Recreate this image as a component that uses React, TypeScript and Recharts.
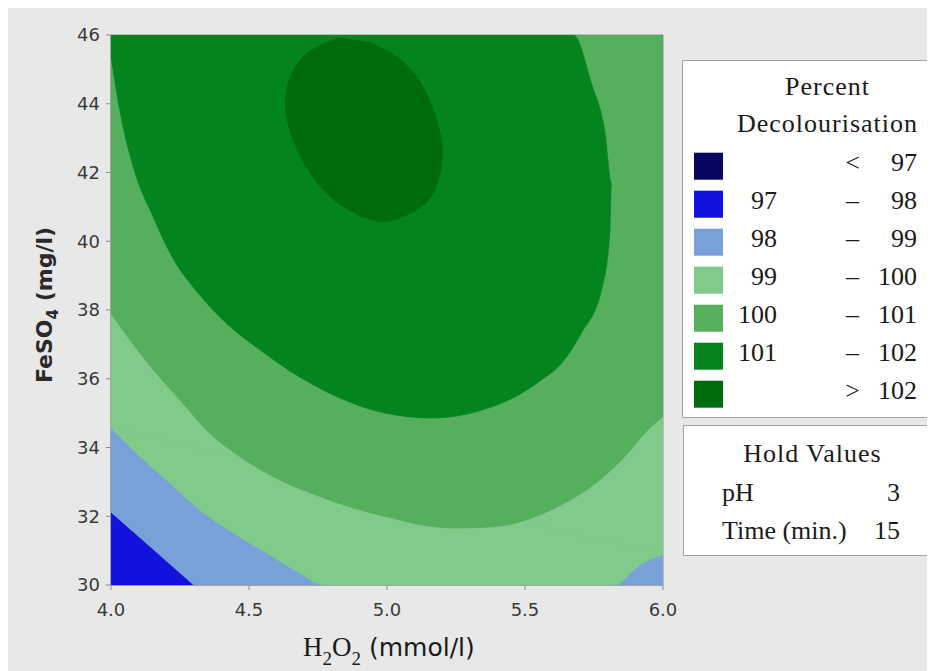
import { ComposedChart, Scatter, XAxis, YAxis, ReferenceArea } from 'recharts';

// axis setup
const X_DOMAIN: [number, number] = [4, 6];
const Y_DOMAIN: [number, number] = [30, 46];
const X_TICKS = [4, 4.5, 5, 5.5, 6];
const Y_TICKS = [30, 32, 34, 36, 38, 40, 42, 44, 46];

// contour lines, [H2O2, FeSO4]
const contour98 = [
  [4.0, 32.12],
  [4.15, 31.06],
  [4.3, 30.0],
];
const contour99Left = [
  [4.0, 34.57],
  [4.105, 33.74],
  [4.213, 32.97],
  [4.321, 32.19],
  [4.442, 31.52],
  [4.562, 30.94],
  [4.682, 30.36],
  [4.77, 30.0],
];
const contour99Right = [
  [5.826, 30.0],
  [5.91, 30.55],
  [6.0, 30.89],
];
const contour100 = [
  [4.0, 37.9],
  [4.09, 36.9],
  [4.17, 36.1],
  [4.249, 35.39],
  [4.357, 34.42],
  [4.466, 33.74],
  [4.61, 33.06],
  [4.755, 32.58],
  [4.899, 32.19],
  [5.043, 31.9],
  [5.116, 31.76],
  [5.25, 31.66],
  [5.404, 31.71],
  [5.525, 31.95],
  [5.645, 32.39],
  [5.741, 32.87],
  [5.862, 33.74],
  [5.934, 34.42],
  [6.0, 34.9],
];
const contour101 = [
  [4.0, 45.4],
  [4.032, 43.81],
  [4.081, 42.16],
  [4.153, 40.71],
  [4.225, 39.5],
  [4.31, 38.55],
  [4.4, 37.75],
  [4.538, 36.85],
  [4.682, 36.06],
  [4.827, 35.45],
  [4.983, 35.02],
  [5.164, 34.86],
  [5.332, 35.06],
  [5.465, 35.48],
  [5.56, 35.97],
  [5.632, 36.45],
  [5.704, 37.33],
  [5.777, 38.58],
  [5.807, 40.23],
  [5.813, 41.68],
  [5.79, 43.13],
  [5.741, 44.58],
  [5.675, 46.0],
];
const contour102 = [
  [4.827, 45.92],
  [4.718, 45.51],
  [4.652, 44.83],
  [4.632, 43.96],
  [4.658, 42.99],
  [4.718, 42.03],
  [4.815, 41.16],
  [4.947, 40.62],
  [5.043, 40.67],
  [5.14, 41.11],
  [5.188, 41.83],
  [5.2, 42.61],
  [5.182, 43.48],
  [5.127, 44.54],
  [5.043, 45.32],
  [4.935, 45.8],
];

// legend
const LEGEND_COLORS = ['#07075f', '#1212dc', '#79a1d9', '#80ca8a', '#55af5c', '#03841f', '#006b0c'];
const LEGEND_FROM = ['', '97', '98', '99', '100', '101', ''];
const LEGEND_SIGN = ['<', '–', '–', '–', '–', '–', '>'];
const LEGEND_TO = ['97', '98', '99', '100', '101', '102', '102'];
const HOLD_NAMES = ['pH', 'Time (min.)'];
const HOLD_VALUES = ['3', '15'];

const [x0, x1] = X_DOMAIN;
const [y0, y1] = Y_DOMAIN;

const contour99 = [...contour99Left, ...contour99Right];
const first = (c: number[][]) => c[0];
const last = (c: number[][]) => c[c.length - 1];

// painted bottom-up, each level = area above its contour.
// smooth part is the curve closed by its chord, the rest is a plain polygon above the chord
const regions = [
  { color: LEGEND_COLORS[1], parts: [{ curve: 'linear', pts: [[x0, y0], [x1, y0], [x1, y1], [x0, y1]] }] },
  { color: LEGEND_COLORS[2], parts: [{ curve: 'linear', pts: [...contour98, [x1, y0], [x1, y1], [x0, y1]] }] },
  {
    color: LEGEND_COLORS[3],
    parts: [
      { curve: 'monotoneX', pts: contour99 },
      { curve: 'linear', pts: [first(contour99), last(contour99), [x1, y1], [x0, y1]] },
    ],
  },
  {
    color: LEGEND_COLORS[4],
    parts: [
      { curve: 'monotoneX', pts: contour100 },
      { curve: 'linear', pts: [first(contour100), last(contour100), [x1, y1], [x0, y1]] },
    ],
  },
  { color: LEGEND_COLORS[5], parts: [{ curve: 'monotoneX', pts: [...contour101, [x0, y1]] }] },
  { color: LEGEND_COLORS[6], parts: [{ curve: 'natural', pts: contour102 }] },
];

const shapes = regions.flatMap((r) =>
  r.parts.map((p) => ({ color: r.color, curve: p.curve, data: p.pts.map(([x, y]) => ({ x, y })) })),
);

const tickStyle = { fill: '#3a3a3a', fontSize: 18, fontFamily: 'DejaVu Sans' };
const serif = 'Liberation Serif';

export default function App() {
  return (
    <div style={{ position: 'relative', width: 927, height: 663, background: '#e8e8e8', overflow: 'hidden' }}>
      <ComposedChart width={680} height={663} margin={{ top: 27, right: 25, left: 43, bottom: 56 }}>
        <XAxis
          type="number"
          dataKey="x"
          domain={X_DOMAIN}
          ticks={X_TICKS}
          allowDataOverflow
          tickFormatter={(v: number) => v.toFixed(1)}
          tick={tickStyle}
          tickSize={5}
          tickMargin={13}
          stroke="#8e8e8e"
        />
        <YAxis
          type="number"
          dataKey="y"
          domain={Y_DOMAIN}
          ticks={Y_TICKS}
          allowDataOverflow
          tick={tickStyle}
          tickSize={5}
          tickMargin={6}
          width={60}
          stroke="#8e8e8e"
        />
        {shapes.map((s, i) => (
          <Scatter
            key={i}
            data={s.data}
            fill={s.color}
            line={{ fill: s.color, stroke: s.color, strokeWidth: 0.8 }}
            lineJointType={s.curve as any}
            shape={() => <g />}
            isAnimationActive={false}
          />
        ))}
        <ReferenceArea x1={x0} x2={x1} y1={y0} y2={y1} fill="none" stroke="#8e8e8e" strokeWidth={1} />
      </ComposedChart>

      <svg width={927} height={663} style={{ position: 'absolute', left: 0, top: 0, pointerEvents: 'none' }}>
        {/* y title */}
        <text
          transform="translate(44,297) rotate(-90)"
          textAnchor="middle"
          fontFamily="DejaVu Sans"
          fontWeight="bold"
          fontSize={22}
          fill="#2a2a2a"
        >
          FeSO<tspan fontSize={15} dy={6}>4</tspan>
          <tspan dy={-6}> (mg/l)</tspan>
        </text>
        {/* x title */}
        <text x={295} y={648} fontFamily={serif} fontSize={27} fill="#1a1a1a">
          H<tspan fontSize={19} dy={9}>2</tspan>
          <tspan dy={-9}>O</tspan>
          <tspan fontSize={19} dy={9}>2</tspan>
          <tspan dy={-9} fontFamily="DejaVu Sans" fontSize={25}> (mmol/l)</tspan>
        </text>

        {/* legend box */}
        <rect x={674.5} y={52.5} width={251} height={357} fill="#fff" stroke="#a4a4a4" />
        <text x={819.5} y={87} textAnchor="middle" fontFamily={serif} fontSize={26} letterSpacing={1} fill="#1a1a1a">
          Percent
        </text>
        <text x={819.5} y={124} textAnchor="middle" fontFamily={serif} fontSize={26} letterSpacing={1} fill="#1a1a1a">
          Decolourisation
        </text>
        {LEGEND_COLORS.map((c, i) => {
          const top = 144.7 + i * 38;
          return (
            <g key={i}>
              <rect x={686} y={top} width={29} height={27} fill={c} />
              <text x={769} y={top + 18.5} textAnchor="end" fontFamily={serif} fontSize={26} fill="#1a1a1a">
                {LEGEND_FROM[i]}
              </text>
              <text x={844.5} y={top + 18.5} textAnchor="middle" fontFamily={serif} fontSize={26} fill="#1a1a1a">
                {LEGEND_SIGN[i]}
              </text>
              <text x={909} y={top + 18.5} textAnchor="end" fontFamily={serif} fontSize={26} fill="#1a1a1a">
                {LEGEND_TO[i]}
              </text>
            </g>
          );
        })}

        {/* hold values box */}
        <rect x={675.5} y={417.5} width={250} height={130} fill="#fff" stroke="#a4a4a4" />
        <text x={804.5} y={454} textAnchor="middle" fontFamily={serif} fontSize={26} letterSpacing={1} fill="#1a1a1a">
          Hold Values
        </text>
        {HOLD_NAMES.map((n, i) => (
          <g key={n}>
            <text x={714} y={493 + i * 37.5} fontFamily={serif} fontSize={26} fill="#1a1a1a">
              {n}
            </text>
            <text x={892} y={493 + i * 37.5} textAnchor="end" fontFamily={serif} fontSize={26} fill="#1a1a1a">
              {HOLD_VALUES[i]}
            </text>
          </g>
        ))}
      </svg>
    </div>
  );
}
